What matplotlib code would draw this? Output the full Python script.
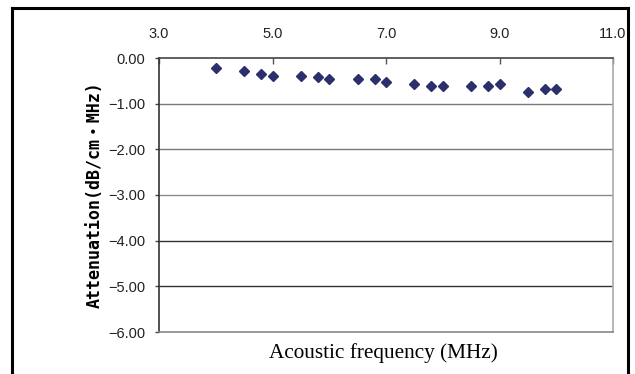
import matplotlib
matplotlib.use("Agg")
import matplotlib.pyplot as plt
from matplotlib.lines import Line2D

freq = [4.0, 4.5, 4.8, 5.0, 5.5, 5.8, 6.0, 6.5, 6.8, 7.0, 7.5, 7.8, 8.0, 8.5, 8.8, 9.0, 9.5, 9.8, 10.0]
atten = [-0.22, -0.28, -0.35, -0.39, -0.39, -0.42, -0.46, -0.46, -0.46, -0.52,
         -0.58, -0.62, -0.62, -0.62, -0.62, -0.58, -0.74, -0.68, -0.68]

x_ticks = [3.0, 5.0, 7.0, 9.0, 11.0]
y_ticks = [0.0, -1.0, -2.0, -3.0, -4.0, -5.0, -6.0]
grid_colors = ["#555555", "#7a7a7a", "#7a7a7a", "#8a8a8a", "#333333", "#333333", "#777777"]

fig = plt.figure(figsize=(6.35, 3.74), dpi=100)
ax = fig.add_axes([159/635, 1-332/374, (613-159)/635, (332-58)/374])

for yv, c in zip(y_ticks[1:-1], grid_colors[1:-1]):
    ax.axhline(yv, color=c, lw=1.0, zorder=1)

ax.plot(freq, atten, linestyle="none", marker="D", markersize=5.5,
        color="#2b2f6b", zorder=3)

ax.set_xlim(3, 11)
ax.set_ylim(-6, 0)
ax.xaxis.tick_top()
ax.set_xticks(x_ticks)
ax.set_xticklabels([f"{v:.1f}" for v in x_ticks], fontfamily="Liberation Sans", fontsize=10.5, color="#222222")
ax.set_yticks(y_ticks)
ax.set_yticklabels([f"{v:.2f}".replace("-", "\u2212") if v != 0 else "0.00" for v in y_ticks],
                   fontfamily="Liberation Sans", fontsize=10.5, color="#222222")
ax.tick_params(axis="x", direction="in", length=4, width=1, color="#555555", pad=12)
ax.tick_params(axis="y", direction="out", length=3, width=1, color="#444444", pad=7)

ax.spines["left"].set_color("#333333")
ax.spines["top"].set_color("#444444")
ax.spines["right"].set_color("#aaaaaa")
ax.spines["bottom"].set_color("#888888")
for s in ax.spines.values():
    s.set_linewidth(1.2)

ax.set_ylabel("Attenuation(dB/cm\u30fbMHz)", fontsize=12, fontweight="bold",
              family=["DejaVu Sans Mono", "Noto Sans CJK JP"], labelpad=3)
fig.text(383/635, 1-353/374, "Acoustic frequency (MHz)", ha="center", va="center",
         fontfamily="Liberation Serif", fontsize=15.3)

# outer frame
kw = dict(color="black", lw=2.2, transform=fig.transFigure, clip_on=False)
fig.add_artist(Line2D([12/635, 628/635], [1-8/374, 1-8/374], **kw))
fig.add_artist(Line2D([12/635, 12/635], [1-8/374, 0], **kw))
fig.add_artist(Line2D([628/635, 628/635], [1-8/374, 0], **kw))

fig.savefig("out.png", dpi=100)
